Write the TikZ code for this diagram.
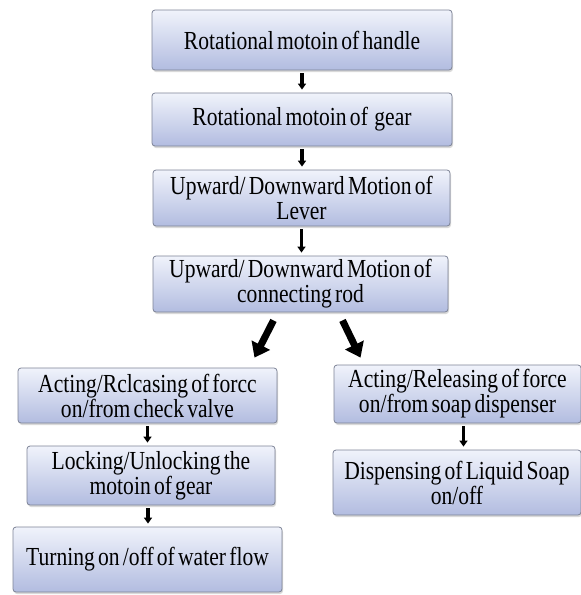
\documentclass[tikz,border=0pt]{standalone}
\usepackage{fontspec}
\setmainfont{Liberation Serif}
\newfontfamily\boxfont[FakeStretch=0.83,WordSpace=0.6]{Liberation Serif}
\usetikzlibrary{shadows,arrows.meta}

\definecolor{boxtop}{RGB}{240,243,251}
\definecolor{boxbot}{RGB}{178,188,224}
\definecolor{boxline}{RGB}{125,131,150}

\begin{document}
\begin{tikzpicture}[x=1pt,y=-1pt,
  box/.style={draw=boxline,line width=0.8pt,rounded corners=3pt,top color=boxtop,bottom color=boxbot,
    drop shadow={opacity=0.3,shadow xshift=1pt,shadow yshift=-2pt},
    align=center,inner sep=0pt,font=\boxfont\fontsize{26}{25}\selectfont},
  smallarr/.style={line width=3.5pt,-{Triangle[length=6pt,width=8pt]},shorten <=3pt,shorten >=3pt},
  bigarr/.style={line width=7pt,-{Triangle[length=14pt,width=20pt]}}]
\useasboundingbox (0,0) rectangle (581,595);

% main column
\node[box,minimum width=300pt,minimum height=60pt] (handle) at (302,40) {Rotational motoin of handle};
\node[box,minimum width=300pt,minimum height=53pt] (gear) at (302,119.5) {Rotational motoin of \ gear};
\node[box,minimum width=297pt,minimum height=56pt] (lever) at (301.5,198) {Upward/ Downward Motion of\\Lever};
\node[box,minimum width=295pt,minimum height=56pt] (rod) at (300.5,284) {Upward/ Downward Motion of\\connecting rod};

% left branch
\node[box,minimum width=259pt,minimum height=55pt] (valve) at (147.5,395.5) {Acting/Rclcasing of forcc\\on/from check valve};
\node[box,minimum width=248pt,minimum height=59pt] (lock) at (151,475.5) {Locking/Unlocking the\\motoin of gear};
\node[box,minimum width=269pt,minimum height=65pt] (water) at (147.5,559.5) {Turning on /off of water flow};

% right branch
\node[box,minimum width=247pt,minimum height=58pt] (soap) at (457.5,394) {Acting/Releasing of force\\on/from soap dispenser};
\node[box,minimum width=248pt,minimum height=65pt] (liquid) at (457,482.5) {Dispensing of Liquid Soap\\on/off};

\draw[smallarr] (handle.south) -- (gear.north);
\draw[smallarr] (gear.south) -- (gear.south |- lever.north);
\draw[smallarr] (lever.south) -- (lever.south |- rod.north);
\draw[bigarr] ([xshift=-27pt,yshift=-8pt]rod.south) -- ([xshift=107pt,yshift=10pt]valve.north);
\draw[bigarr] ([xshift=42pt,yshift=-8pt]rod.south) -- ([xshift=-97pt,yshift=7pt]soap.north);
\draw[smallarr] (valve.south) -- (valve.south |- lock.north);
\draw[smallarr] ([xshift=-3pt]lock.south) -- ([xshift=-3pt]lock.south |- water.north);
\draw[smallarr] ([xshift=6pt]soap.south) -- ([xshift=6pt]soap.south |- liquid.north);
\end{tikzpicture}
\end{document}
